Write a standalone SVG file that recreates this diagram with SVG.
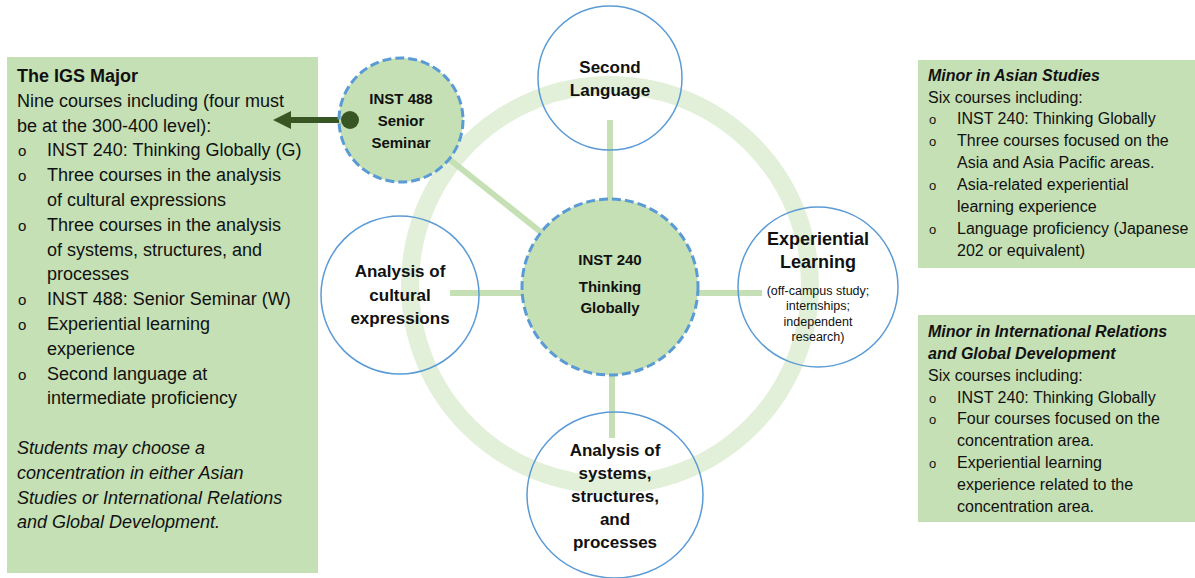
<svg xmlns="http://www.w3.org/2000/svg" width="1195" height="578" viewBox="0 0 1195 578">
<defs>
<style>
.panel{fill:#C5E0B4}
.t{font-family:"Liberation Sans",Arial,sans-serif;fill:#111}
.lp{font-size:18px}
.rp{font-size:16px}
.b{font-weight:bold}
.i{font-style:italic}
.bul{font-family:"Liberation Sans",Arial,sans-serif;fill:#111}
.node{font-family:"Liberation Sans",Arial,sans-serif;font-weight:bold;fill:#111;text-anchor:middle}
.open{fill:none;stroke:#5B9BD5;stroke-width:1.5}
.core{fill:#C5E0B4;stroke:#5B9BD5;stroke-width:3;stroke-dasharray:9 4}
.conn{stroke:#C5E0B4;stroke-width:6;fill:none}
</style>
</defs>
<rect width="1195" height="578" fill="#fff"/>

<g id="major-panel">
<rect class="panel" x="7" y="57" width="311" height="516"/>
<text class="t lp b" x="17" y="82">The IGS Major</text>
<text class="t lp" x="17" y="106.8">Nine courses including (four must</text>
<text class="t lp" x="17" y="131.6">be at the 300-400 level):</text>
<g class="bul" font-size="15">
<text x="18" y="156.4">o</text>
<text x="18" y="181.2">o</text>
<text x="18" y="230.8">o</text>
<text x="18" y="305.2">o</text>
<text x="18" y="330">o</text>
<text x="18" y="379.6">o</text>
</g>
<text class="t lp" x="47" y="156.4">INST 240: Thinking Globally (G)</text>
<text class="t lp" x="47" y="181.2">Three courses in the analysis</text>
<text class="t lp" x="47" y="206">of cultural expressions</text>
<text class="t lp" x="47" y="230.8">Three courses in the analysis</text>
<text class="t lp" x="47" y="255.6">of systems, structures, and</text>
<text class="t lp" x="47" y="280.4">processes</text>
<text class="t lp" x="47" y="305.2">INST 488: Senior Seminar (W)</text>
<text class="t lp" x="47" y="330">Experiential learning</text>
<text class="t lp" x="47" y="354.8">experience</text>
<text class="t lp" x="47" y="379.6">Second language at</text>
<text class="t lp" x="47" y="404.4">intermediate proficiency</text>
<text class="t lp i" x="17" y="454">Students may choose a</text>
<text class="t lp i" x="17" y="478.8">concentration in either Asian</text>
<text class="t lp i" x="17" y="503.6">Studies or International Relations</text>
<text class="t lp i" x="17" y="528.4">and Global Development.</text>
</g>

<g id="ring">
<circle cx="610" cy="285" r="200" fill="none" stroke="#E2F0D9" stroke-width="18"/>
</g>

<g id="connectors">
<line class="conn" x1="610" y1="120" x2="610" y2="201"/>
<line class="conn" x1="449" y1="159" x2="542" y2="233"/>
<line class="conn" x1="450" y1="293" x2="523" y2="293"/>
<line class="conn" x1="697" y1="293" x2="762" y2="293"/>
<line class="conn" x1="612" y1="373" x2="612" y2="438"/>
<line x1="350" y1="120" x2="289" y2="120" stroke="#375623" stroke-width="6"/>
<polygon points="273,120 291,111 291,129" fill="#375623"/>
</g>

<g id="inst488">
<circle class="core" cx="401" cy="120" r="62"/>
<text class="node" font-size="15" x="401" y="104">INST 488</text>
<text class="node" font-size="15" x="401" y="126">Senior</text>
<text class="node" font-size="15" x="401" y="148">Seminar</text>
</g>
<circle cx="350" cy="120" r="9" fill="#375623"/>

<g id="inst240">
<circle class="core" cx="610" cy="287" r="88"/>
<text class="node" font-size="15" x="610" y="265">INST 240</text>
<text class="node" font-size="15" x="610" y="292">Thinking</text>
<text class="node" font-size="15" x="610" y="313">Globally</text>
</g>

<g id="second-language">
<circle class="open" cx="610" cy="78" r="72"/>
<text class="node" font-size="17" x="610" y="73">Second</text>
<text class="node" font-size="17" x="610" y="96">Language</text>
</g>

<g id="cultural">
<circle class="open" cx="400" cy="295" r="79"/>
<text class="node" font-size="17" x="400" y="277">Analysis of</text>
<text class="node" font-size="17" x="400" y="301">cultural</text>
<text class="node" font-size="17" x="400" y="324">expressions</text>
</g>

<g id="experiential">
<circle class="open" cx="818" cy="287" r="80"/>
<text class="node" font-size="18" x="818" y="245">Experiential</text>
<text class="node" font-size="18" x="818" y="268">Learning</text>
<g font-family="Liberation Sans, Arial, sans-serif" font-size="12.5" fill="#111" text-anchor="middle">
<text x="818" y="295">(off-campus study;</text>
<text x="818" y="310">internships;</text>
<text x="818" y="326">independent</text>
<text x="818" y="341">research)</text>
</g>
</g>

<g id="systems">
<ellipse class="open" cx="615" cy="495" rx="88" ry="83"/>
<text class="node" font-size="17" x="615" y="456">Analysis of</text>
<text class="node" font-size="17" x="615" y="479">systems,</text>
<text class="node" font-size="17" x="615" y="502">structures,</text>
<text class="node" font-size="17" x="615" y="525">and</text>
<text class="node" font-size="17" x="615" y="548">processes</text>
</g>

<g id="asian-minor">
<rect class="panel" x="918" y="60" width="277" height="208"/>
<text class="t rp b i" x="928" y="81">Minor in Asian Studies</text>
<text class="t rp" x="928" y="103">Six courses including:</text>
<g class="bul" font-size="13">
<text x="929" y="124">o</text>
<text x="929" y="146">o</text>
<text x="929" y="190">o</text>
<text x="929" y="234">o</text>
</g>
<text class="t rp" x="957" y="124">INST 240: Thinking Globally</text>
<text class="t rp" x="957" y="146">Three courses focused on the</text>
<text class="t rp" x="957" y="168">Asia and Asia Pacific areas.</text>
<text class="t rp" x="957" y="190">Asia-related experiential</text>
<text class="t rp" x="957" y="212">learning experience</text>
<text class="t rp" x="957" y="234">Language proficiency (Japanese</text>
<text class="t rp" x="957" y="256">202 or equivalent)</text>
</g>

<g id="irgd-minor">
<rect class="panel" x="918" y="315" width="277" height="207"/>
<text class="t rp b i" x="928" y="337">Minor in International Relations</text>
<text class="t rp b i" x="928" y="359">and Global Development</text>
<text class="t rp" x="928" y="381">Six courses including:</text>
<g class="bul" font-size="13">
<text x="929" y="403">o</text>
<text x="929" y="424">o</text>
<text x="929" y="468">o</text>
</g>
<text class="t rp" x="957" y="403">INST 240: Thinking Globally</text>
<text class="t rp" x="957" y="424">Four courses focused on the</text>
<text class="t rp" x="957" y="446">concentration area.</text>
<text class="t rp" x="957" y="468">Experiential learning</text>
<text class="t rp" x="957" y="490">experience related to the</text>
<text class="t rp" x="957" y="512">concentration area.</text>
</g>
</svg>
